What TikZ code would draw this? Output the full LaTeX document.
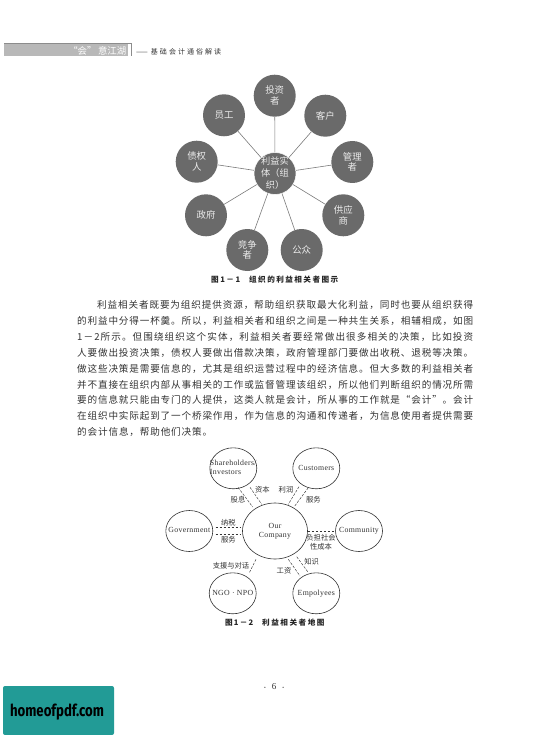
\documentclass[tikz,border=0pt]{standalone}
\usepackage{fontspec}
\setmainfont{Liberation Serif}
\newfontfamily\cjk{Noto Sans CJK SC}
\newfontfamily\logofont{Fira Sans}
\usetikzlibrary{shapes.geometric}
\definecolor{discgray}{HTML}{6A6A6A}
\definecolor{spoke}{HTML}{7A7A7A}
\definecolor{ink}{HTML}{333333}
\definecolor{teal}{HTML}{229B96}
\def\spreadA#1{#1\spreadB}
\def\spreadB#1{\ifx#1\spreadEnd\else\hskip 0pt plus 1fil #1\expandafter\spreadB\fi}
\newcommand{\bodyline}[4]{\node[bodytext,anchor=west] (#1) at (#2,#3) {\hbox to \dimexpr473pt-#2pt\relax{\spreadA #4\spreadEnd}};}
\newcommand{\capline}[4]{\hbox to #1pt{\spreadA #2\spreadEnd}\hspace{9pt}\hbox to #3pt{\spreadA #4\spreadEnd}}
\newcommand{\ovtext}[2][c]{\makebox[0pt][c]{\begin{tabular}{@{}#1@{}}#2\end{tabular}}}
\tikzset{
  disc/.style={circle,fill=discgray,minimum size=42pt,inner sep=0pt,text=white!92!black,align=center,font=\cjk\fontsize{9.4}{10.8}\selectfont},
  hub/.style={disc,draw=white,line width=0.5pt},
  spokeline/.style={draw=spoke,line width=0.6pt},
  oval/.style={ellipse,draw=ink,fill=white,line width=0.6pt,inner sep=0pt,minimum width=47pt,minimum height=41pt,font=\addfontfeature{LetterSpace=4}\fontsize{7.8}{8.6}\selectfont,text=ink},
  dashline/.style={draw=ink,line width=0.45pt,dash pattern=on 2.6pt off 1.4pt},
  lbl/.style={inner sep=0pt,text=ink,align=center,font=\cjk\fontsize{7.3}{9.6}\selectfont},
  caption/.style={inner sep=0pt,text=black!85,font=\cjk\bfseries\fontsize{7.6}{9}\selectfont},
  bodytext/.style={inner sep=0pt,text=ink,font=\cjk\fontsize{9.6}{11}\selectfont},
}
\begin{document}
\begin{tikzpicture}[x=1pt,y=-1pt]
\useasboundingbox (0,0) rectangle (554,735);
% header
\fill[black!28] (4,44) rectangle (128,56);
\draw[black!45,line width=0.7pt] (4,43.2) -- (131,43.2) -- (131,56);
\node[inner sep=0pt,anchor=east,text=white,font=\cjk\fontsize{9.4}{10}\selectfont] (headl) at (126.5,50.5) {“会”\,意江湖};
\node[inner sep=0pt,anchor=west,text=ink,font=\cjk\fontsize{7}{8}\selectfont] (headr) at (136,51.6) {\hbox to 85pt{——\hskip 3pt\spreadA 基础会计通俗解读\spreadEnd}};
% figure 1-1
\node[disc] (inv) at (274.7,95.7) {投资\\者};
\node[disc] (cus) at (325.3,115.7) {客户};
\node[disc] (mgr) at (352.3,162) {管理\\者};
\node[disc] (sup) at (343.3,215.3) {供应\\商};
\node[disc] (pub) at (301.7,250) {公众};
\node[disc] (com) at (247.3,250) {竞争\\者};
\node[disc] (gov) at (206,215.3) {政府};
\node[disc] (cre) at (196.7,161.7) {债权\\人};
\node[disc] (emp) at (224,115.3) {员工};
\node[hub,font=\cjk\fontsize{9.2}{12}\selectfont] (ent) at (275,173.5) {\raisebox{-2.5pt}[0pt][0pt]{\ovtext{利益实\\体（组\\织）}}};
\foreach \o in {inv,cus,mgr,sup,pub,com,gov,cre,emp}{\draw[spokeline] (ent) -- (\o);}
\node[caption,anchor=west] (cap1) at (211,280) {\capline{29}{图1－1}{89}{组织的利益相关者图示}};
% body
\bodyline{l1}{97}{305}{利益相关者既要为组织提供资源，帮助组织获取最大化利益，同时也要从组织获得}
\bodyline{l2}{77}{321}{的利益中分得一杯羹。所以，利益相关者和组织之间是一种共生关系，相辅相成，如图}
\bodyline{l3}{77}{337}{1－2所示。但围绕组织这个实体，利益相关者要经常做出很多相关的决策，比如投资}
\bodyline{l4}{77}{353}{人要做出投资决策，债权人要做出借款决策，政府管理部门要做出收税、退税等决策。}
\bodyline{l5}{77}{369}{做这些决策是需要信息的，尤其是组织运营过程中的经济信息。但大多数的利益相关者}
\bodyline{l6}{77}{384.5}{并不直接在组织内部从事相关的工作或监督管理该组织，所以他们判断组织的情况所需}
\bodyline{l7}{77}{400}{要的信息就只能由专门的人提供，这类人就是会计，所从事的工作就是“会计”。会计}
\bodyline{l8}{77}{416}{在组织中实际起到了一个桥梁作用，作为信息的沟通和传递者，为信息使用者提供需要}
\node[bodytext,anchor=west] (l9) at (77,431.5) {\hbox to 135pt{\spreadA 的会计信息，帮助他们决策。\spreadEnd}};
% figure 1-2
\node[oval] (sh) at (233.3,468.3) {\ovtext[l]{Shareholders/\\Investors}};
\node[oval] (cu) at (316.3,468.3) {\ovtext{Customers}};
\node[oval,minimum width=65pt,minimum height=56pt] (oc) at (275,531) {\ovtext{Our\\Company}};
\node[oval] (go) at (189.3,531) {\ovtext{Government}};
\node[oval] (cm) at (359,531) {\ovtext{Community}};
\node[oval] (ng) at (232.7,593.3) {\ovtext{NGO · NPO}};
\node[oval] (em) at (316.3,593.3) {\ovtext{Empolyees}};
\coordinate (a1) at (238,487.3); \coordinate (a2) at (252.7,507);
\coordinate (b1) at (250,487.3); \coordinate (b2) at (261.7,504.3);
\coordinate (c1) at (299,486.7); \coordinate (c2) at (288.3,504.3);
\coordinate (d1) at (308.3,487.7); \coordinate (d2) at (294,507);
\coordinate (e1) at (215.7,527); \coordinate (e2) at (240.7,527);
\coordinate (f1) at (215.7,534.3); \coordinate (f2) at (240.7,534.3);
\coordinate (g1) at (256,559.3); \coordinate (g2) at (249.3,572.7);
\coordinate (h1) at (288.3,559.3); \coordinate (h2) at (300,576);
\coordinate (i1) at (296.7,556.7); \coordinate (i2) at (307.7,571.7);
\draw[dashline] (a1) -- (a2);
\draw[dashline] (b1) -- (b2);
\draw[dashline] (c1) -- (c2);
\draw[dashline] (d1) -- (d2);
\draw[dashline] (e1) -- (e2);
\draw[dashline] (f1) -- (f2);
\draw[dashline] (g1) -- (g2);
\draw[dashline] (h1) -- (h2);
\draw[dashline] (i1) -- (i2);
\draw[dashline] (oc) -- (cm);
\node[lbl] (t1) at (262.3,490) {资本};
\node[lbl] (t2) at (286,490) {利润};
\node[lbl] (t3) at (238,499.3) {股息};
\node[lbl] (t4) at (313.3,499.3) {服务};
\node[lbl] (t5) at (228.3,522.3) {纳税};
\node[lbl] (t6) at (228.3,540) {服务};
\node[lbl] (t7) at (321,542.3) {负担社会\\性成本};
\node[lbl] (t8) at (311.7,561.7) {知识};
\node[lbl] (t9) at (284,570.7) {工资};
\node[lbl] (t10) at (231,565.7) {支援与对话};
\node[caption,anchor=west] (cap2) at (225,623) {\capline{28}{图1－2}{62.3}{利益相关者地图}};
% footer
\node[inner sep=0pt,text=ink,font=\fontsize{9}{10}\selectfont] (pg) at (274,686.7) {{\fontsize{5}{5}\selectfont •}\hspace{6pt}6\hspace{6pt}{\fontsize{5}{5}\selectfont •}};
\fill[teal,rounded corners=2pt] (3,686) rectangle (114,735);
\node[inner sep=0pt,text=black,font=\logofont\bfseries\fontsize{16.5}{18}\selectfont] (logo) at (57,712) {\scalebox{0.8}[1]{homeofpdf.com}};
\end{tikzpicture}
\end{document}
